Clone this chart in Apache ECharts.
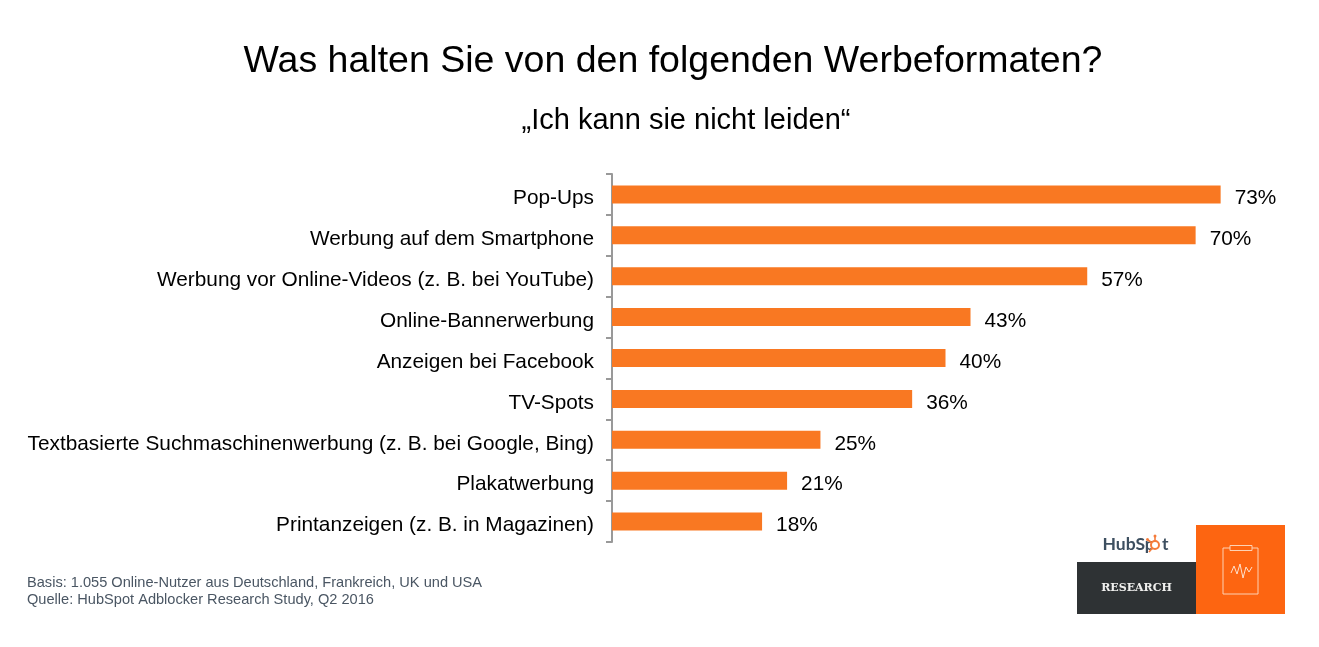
<!DOCTYPE html>
<html><head><meta charset="utf-8">
<script src="https://cdn.jsdelivr.net/npm/echarts@6/dist/echarts.min.js"></script>
<style>html,body{margin:0;padding:0;background:#fff}#c{width:1319px;height:647px}</style>
</head><body><div id="c"></div>
<script>
const categories = ["Pop-Ups","Werbung auf dem Smartphone","Werbung vor Online-Videos (z. B. bei YouTube)","Online-Bannerwerbung","Anzeigen bei Facebook","TV-Spots","Textbasierte Suchmaschinenwerbung (z. B. bei Google, Bing)","Plakatwerbung","Printanzeigen (z. B. in Magazinen)"];
const values = [73,70,57,43,40,36,25,21,18];
const titleText = "Was halten Sie von den folgenden Werbeformaten?";
const subtitleText = "„Ich kann sie nicht leiden“";
const footnote = "Basis: 1.055 Online-Nutzer aus Deutschland, Frankreich, UK und USA\nQuelle: HubSpot Adblocker Research Study, Q2 2016";
const FONT = '"Liberation Sans", Arial, Helvetica, sans-serif';
const chart = echarts.init(document.getElementById('c'), null, {renderer:'canvas'});
const spokes = [[1155,545,1155,536],[1155,545,1148,540],[1155,545,1149,552]];
chart.setOption({
  animation:false,
  backgroundColor:'#fff',
  textStyle:{fontFamily:FONT},
  title:[
    {text:titleText,left:668,top:38,textAlign:'center',textStyle:{fontFamily:FONT,fontSize:37.5,fontWeight:'normal',color:'#000'}},
    {text:subtitleText,left:681,top:101,textAlign:'center',textStyle:{fontFamily:FONT,fontSize:29,fontWeight:'normal',color:'#000'}},
    {text:footnote,left:22,top:569,textStyle:{fontFamily:FONT,fontSize:14.6,fontWeight:'normal',color:'#4a5663',lineHeight:17}}
  ],
  grid:{left:612,top:174,width:667,height:368,containLabel:false},
  xAxis:{type:'value',min:0,max:80,show:false},
  yAxis:{type:'category',inverse:true,data:categories,
    axisLine:{show:true,lineStyle:{color:'#999',width:2}},
    axisTick:{show:true,length:6,lineStyle:{color:'#999',width:2}},
    axisLabel:{margin:18,fontSize:20.8,color:'#000',fontFamily:FONT,verticalAlign:'top',lineHeight:8}},
  series:[{type:'bar',data:values,barWidth:18,itemStyle:{color:'#f97822'},
    label:{show:true,position:'right',distance:14,offset:[0,4],formatter:'{c}%',fontSize:20.8,color:'#000',fontFamily:FONT}}],
  graphic:[
    {type:'rect',shape:{x:1077,y:562,width:119,height:52},style:{fill:'#2e3234'}},
    {type:'rect',shape:{x:1196,y:525,width:89,height:89},style:{fill:'#fd6511'}},
    {type:'text',x:1136.5,y:588,style:{text:'RESEARCH',fill:'#f0f0ee',font:'bold 11px "DejaVu Serif", serif',align:'center',verticalAlign:'middle'}},
    {type:'rect',shape:{x:1223,y:548,width:35,height:46},style:{fill:'none',stroke:'#fdd2b5',lineWidth:1}},
    {type:'rect',shape:{x:1230,y:545.5,width:22,height:5},style:{fill:'#fd6511',stroke:'#fdd2b5',lineWidth:1}},
    {type:'polyline',shape:{points:[[1231,573],[1234,566],[1237,574],[1240,564],[1243,578],[1246,567],[1249,572],[1252,567]]},style:{fill:'none',stroke:'#fde0cc',lineWidth:1}},
    {type:'text',x:1102.5,y:544,style:{text:'HubSp',fill:'#3d4f60',font:'bold 17.5px Lato, sans-serif',verticalAlign:'middle'}},
    {type:'text',x:1162,y:544,style:{text:'t',fill:'#3d4f60',font:'bold 17.5px Lato, sans-serif',verticalAlign:'middle'}},
    ...spokes.map(s=>({type:'line',shape:{x1:s[0],y1:s[1],x2:s[2],y2:s[3]},style:{stroke:'#f57b3a',lineWidth:1.6}})),
    {type:'circle',shape:{cx:1155,cy:545,r:4},style:{fill:'#fff',stroke:'#f57b3a',lineWidth:2}},
    {type:'circle',shape:{cx:1155,cy:536,r:1.5},style:{fill:'#f57b3a'}},
    {type:'circle',shape:{cx:1147.5,cy:539.5,r:1.5},style:{fill:'#f57b3a'}}
  ]
});
</script></body></html>
